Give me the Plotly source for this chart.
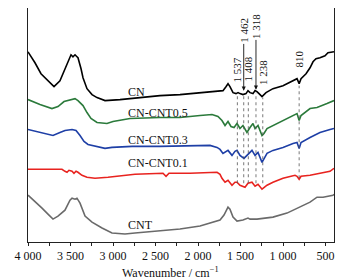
import plotly.graph_objects as go

# Wavenumber (cm-1) and transmittance (a.u., offset stacked)
cn_x = [4000, 3918, 3847, 3694, 3624, 3565, 3518, 3494, 3471, 3447, 3424, 3412, 3376, 3353, 3306, 3247, 3188, 3094,
        2918, 2682, 2447, 2212, 1976, 1800, 1706, 1671, 1647, 1624, 1588, 1553, 1529, 1506, 1471, 1435, 1412, 1388,
        1353, 1329, 1306, 1282, 1247, 1200, 1118, 1000, 929, 882, 835, 810, 788, 729, 682, 647, 612, 565, 506, 471, 424, 400]
cn_y = [191, 180, 169, 156, 162, 174, 184, 188, 186, 188, 186, 185, 174, 165, 154, 148, 145, 142,
        143, 145, 147, 148, 150, 151, 152, 156, 159, 156, 150, 149, 150, 149, 148, 149, 152, 150,
        149, 152, 151, 149, 146, 150, 154, 157, 160, 162, 164, 159, 164, 169, 175, 181, 184, 185, 187, 190, 191, 191]

c05_x = [4000, 3859, 3718, 3647, 3576, 3506, 3447, 3412, 3353, 3306, 3259, 3188, 3071, 3000, 2800, 2447, 2212, 1976,
         1835, 1765, 1718, 1682, 1647, 1612, 1576, 1541, 1506, 1471, 1424, 1388, 1353, 1329, 1294, 1247, 1224, 1188,
         1118, 1000, 882, 835, 810, 788, 682, 600, 482, 400]
c05_y = [143, 138, 134, 136, 141, 143, 144, 142, 137, 130, 124, 120, 119, 121, 124, 125, 125, 127,
         128, 126, 122, 117, 121, 116, 115, 119, 114, 117, 110, 115, 119, 114, 117, 107, 109, 114,
         117, 122, 127, 129, 122, 127, 134, 135, 139, 142]

c03_x = [4000, 3859, 3706, 3624, 3565, 3482, 3435, 3388, 3341, 3294, 3235, 3094, 3012, 2776, 2447, 2094, 1859, 1776,
         1741, 1706, 1647, 1600, 1565, 1541, 1506, 1459, 1424, 1388, 1365, 1329, 1294, 1247, 1224, 1188, 1118, 1000,
         882, 835, 810, 788, 682, 565, 447, 400]
c03_y = [113, 110, 107, 110, 112, 113, 112, 107, 101, 98, 97, 94, 95, 96, 96, 97, 97, 95,
         93, 89, 92, 87, 91, 92, 87, 84, 87, 90, 92, 87, 90, 80, 84, 89, 92, 95,
         99, 100, 94, 100, 105, 110, 113, 114]

c01_x = [4000, 3682, 3600, 3565, 3541, 3518, 3482, 3459, 3435, 3412, 3365, 3306, 3212, 3059, 2859, 2741, 2412, 2376,
         2341, 2094, 1776, 1741, 1718, 1682, 1647, 1600, 1565, 1541, 1506, 1447, 1412, 1365, 1329, 1294, 1247, 1188,
         1118, 1000, 859, 835, 810, 788, 682, 565, 447, 400]
c01_y = [73, 73, 73, 71, 70, 72, 71, 69, 71, 70, 67, 65, 64, 65, 67, 68, 69, 66,
         69, 69, 70, 68, 64, 60, 62, 57, 60, 60, 57, 55, 59, 60, 56, 58, 53, 57,
         60, 64, 67, 66, 63, 66, 67, 69, 71, 74]

cnt_x = [4000, 3918, 3835, 3765, 3706, 3647, 3565, 3506, 3482, 3447, 3424, 3388, 3353, 3329, 3247, 3129, 3012, 2859,
         2741, 2447, 2212, 1976, 1835, 1741, 1694, 1659, 1647, 1624, 1588, 1541, 1471, 1412, 1388, 1306, 1118, 953,
         835, 682, 600, 529, 412, 400]
cnt_y = [47, 41, 34, 28, 23, 26, 32, 42, 44, 43, 44, 39, 31, 26, 20, 14, 9, 8,
         9, 11, 13, 16, 20, 22, 27, 34, 35, 33, 25, 21, 22, 24, 23, 23, 25, 29,
         34, 40, 45, 45, 47, 48]

series_names = ["CN", "CN-CNT0.5", "CN-CNT0.3", "CN-CNT0.1", "CNT"]
series_colors = ["#000000", "#2b7a3b", "#1e3fa6", "#e8231f", "#6a6a6a"]
label_y = [151, 130, 102, 79, 17]

peak_labels = ["1 537", "1 462", "1 408", "1 318", "1 238", "810"]
peak_pos = [1537, 1462, 1408, 1318, 1238, 810]
peak_label_y = [158, 213, 159, 217, 156, 173]
peak_arrow_tip = [None, 152, None, 153, None, None]
line_top = [147, 147, 147, 150, 145, 157]
line_bottom = [59, 59, 59, 59, 59, 64]

tick_vals = [4000, 3500, 3000, 2500, 2000, 1500, 1000, 500]
tick_text = ["4 000", "3 500", "3 000", "2 500", "2 000", "1 500", "1 000", "500"]
x_title = "Wavenumber / cm<sup>−1</sup>"

FONT = "Liberation Serif, Times New Roman, serif"

fig = go.Figure()
xs = [cn_x, c05_x, c03_x, c01_x, cnt_x]
ys = [cn_y, c05_y, c03_y, c01_y, cnt_y]
for name, color, x, y in zip(series_names, series_colors, xs, ys):
    fig.add_trace(go.Scatter(x=x, y=y, mode="lines", name=name,
                             line=dict(color=color, width=1.6), showlegend=False))

for name, ly in zip(series_names, label_y):
    fig.add_annotation(x=2850, y=ly, text=name, showarrow=False, xanchor="left", yanchor="middle",
                       font=dict(family=FONT, size=12, color="#111"))

for pos, top, bot in zip(peak_pos, line_top, line_bottom):
    fig.add_shape(type="line", x0=pos, x1=pos, y0=bot, y1=top, xref="x", yref="y",
                  line=dict(color="#555", width=0.8, dash="dot"))

for text, pos, ly, tip in zip(peak_labels, peak_pos, peak_label_y, peak_arrow_tip):
    if tip is None:
        fig.add_annotation(x=pos, y=ly, text=text, showarrow=False, textangle=-90,
                           xanchor="center", yanchor="bottom",
                           font=dict(family=FONT, size=11, color="#111"))
    else:
        fig.add_annotation(x=pos, y=tip, ax=pos, ay=ly, xref="x", yref="y", axref="x", ayref="y",
                           text=text, textangle=-90, showarrow=True, arrowhead=2, arrowsize=0.9,
                           arrowwidth=0.9, arrowcolor="#111",
                           font=dict(family=FONT, size=11, color="#111"))

# axis title placed just under the tick labels
fig.add_annotation(x=0.465, y=0, xref="paper", yref="paper", text=x_title, showarrow=False,
                   xanchor="center", yanchor="top", yshift=-21,
                   font=dict(family=FONT, size=12, color="#111"))

# page body has an 8px margin, so the figure is sized to fit the window
fig.update_layout(
    width=336, height=271,
    margin=dict(l=20, r=10, t=0, b=37),
    paper_bgcolor="white", plot_bgcolor="white",
    font=dict(family=FONT, size=12, color="#111"),
)
fig.update_xaxes(range=[4000, 400], tickvals=tick_vals, ticktext=tick_text,
                 ticks="outside", ticklen=3, tickcolor="#222",
                 minor=dict(ticks="outside", dtick=250, tick0=0, ticklen=3, tickcolor="#222"),
                 showline=True, linecolor="#222", linewidth=1, mirror=True, showgrid=False, zeroline=False,
                 tickfont=dict(family=FONT, size=12))
fig.update_yaxes(range=[0, 235], showticklabels=False, ticks="", showline=True, linecolor="#222",
                 linewidth=1, mirror=True, showgrid=False, zeroline=False)

fig.write_html("out.html")
